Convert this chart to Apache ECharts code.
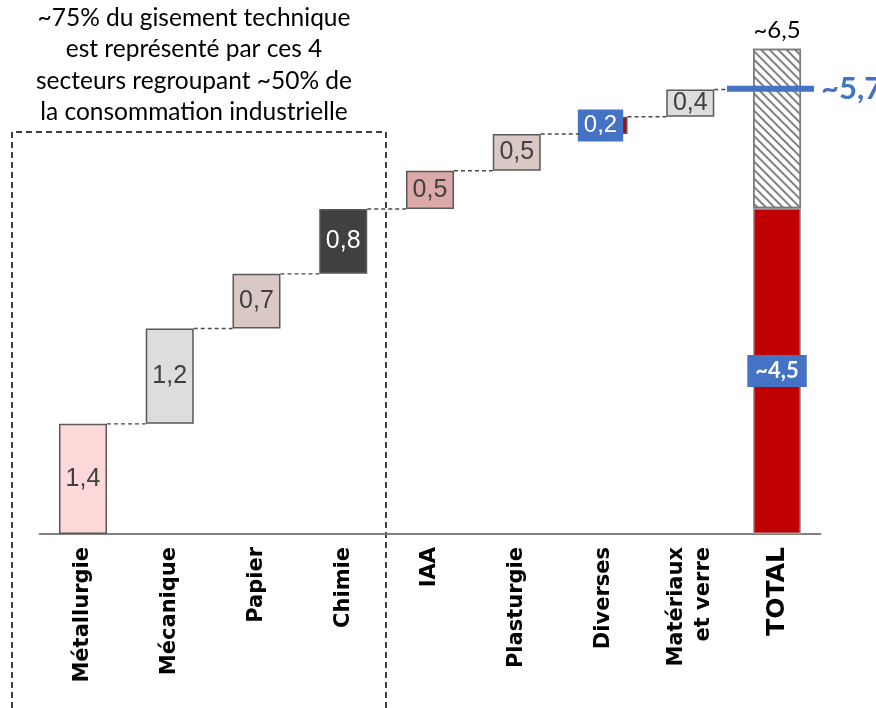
<!DOCTYPE html>
<html>
<head>
<meta charset="utf-8">
<script src="https://cdn.jsdelivr.net/npm/echarts@6/dist/echarts.min.js"></script>
<style>html,body{margin:0;padding:0;background:#fff;}#chart{width:876px;height:708px;}</style>
</head>
<body>
<div id="chart"></div>
<script>
// ---- data ----
const categories = ['Métallurgie', 'Mécanique', 'Papier', 'Chimie', 'IAA', 'Plasturgie', 'Diverses', 'Matériaux\net verre', 'TOTAL'];
const sectorValues = [1.41, 1.22, 0.70, 0.83, 0.49, 0.47, 0.22, 0.35];
const sectorLabels = ['1,4', '1,2', '0,7', '0,8', '0,5', '0,5', '0,2', '0,4'];
const sectorColors = ['#FFD9D9', '#DDDDDD', '#D9C8C3', '#404040', '#DCA8A8', '#D9C8C3', '#C00000', '#DDDDDD'];
const totalRed = 4.17;
const totalRedLabel = '~4,5';
const totalTop = 6.21;
const totalTopLabel = '~6,5';
const markerValue = 5.7;
const markerLabel = '~5,7';
const noteText = '~75% du gisement technique\nest représenté par ces 4\nsecteurs regroupant ~50% de\nla consommation industrielle';

// ---- derived ----
const bases = [];
const tops = [];
let acc = 0;
sectorValues.forEach(v => { bases.push(acc); acc += v; tops.push(acc); });

const baseData = bases.concat([0]);
const deltaData = sectorValues.map((v, i) => {
  const isChimie = i === 3, isDiv = i === 6;
  return {
    value: v,
    itemStyle: { color: sectorColors[i] },
    label: {
      formatter: sectorLabels[i],
      color: isChimie || isDiv ? '#fff' : '#404040',
      backgroundColor: isDiv ? '#4472C4' : 'transparent',
      padding: isDiv ? [2, 6] : 0,
      fontSize: isDiv ? 24 : 25,
      lineHeight: 28,
      offset: isDiv ? [-3, 0] : [0, 0]
    }
  };
}).concat([{
  value: totalRed,
  itemStyle: { color: '#C00000', borderColor: '#A0A0A0' },
  label: {
    formatter: totalRedLabel,
    color: '#fff',
    fontWeight: 'bold',
    fontFamily: 'Lato',
    fontSize: 22,
    backgroundColor: '#4472C4',
    padding: [2, 8],
    lineHeight: 28
  }
}]);
const hatchData = sectorValues.map(() => '-').concat([totalTop - totalRed]);

const chart = echarts.init(document.getElementById('chart'));
chart.setOption({
  animation: false,
  grid: { left: 39.6, right: 55.6, top: 26.2, bottom: 174 },
  xAxis: {
    type: 'category',
    data: categories,
    axisLine: { lineStyle: { color: '#808080', width: 2 } },
    axisTick: { show: false },
    axisLabel: {
      rotate: 90,
      margin: 13,
      color: '#000',
      fontFamily: 'DejaVu Sans',
      fontWeight: 'bold',
      fontSize: 21,
      lineHeight: 27,
      interval: 0,
      formatter: (v, i) => i === 8 ? '{t|' + v + '}' : v,
      rich: { t: { fontSize: 25, fontWeight: 'bold', fontFamily: 'DejaVu Sans', color: '#000' } }
    }
  },
  yAxis: { type: 'value', min: 0, max: 6.5, show: false, splitLine: { show: false } },
  series: [
    {
      type: 'bar', stack: 'w', barWidth: 48, data: baseData,
      itemStyle: { color: 'transparent', borderWidth: 0 }, silent: true
    },
    {
      type: 'bar', stack: 'w', barWidth: 48, data: deltaData,
      itemStyle: { borderColor: '#595959', borderWidth: 1.5 },
      label: { show: true, position: 'inside', fontFamily: 'Liberation Sans', fontSize: 25 }
    },
    {
      type: 'bar', stack: 'w', barWidth: 48, data: hatchData,
      itemStyle: {
        color: '#fff', borderColor: '#7a7a7a', borderWidth: 1.5,
        decal: { symbol: 'rect', symbolSize: 1, dashArrayX: [[1, 0]], dashArrayY: [2, 4], rotation: Math.PI / 4, color: '#808080' }
      },
      label: {
        show: true, position: 'top', distance: 7, formatter: totalTopLabel,
        color: '#000', fontFamily: 'Lato', fontSize: 24
      }
    },
    {
      type: 'custom', z: 5, clip: false, silent: true,
      data: tops.map((t, i) => [i, t]),
      renderItem: (params, api) => {
        const i = api.value(0), t = api.value(1);
        const p = api.coord([i, t]);
        const q = api.coord([i + 1, t]);
        return {
          type: 'line',
          shape: { x1: p[0] + 24, y1: p[1], x2: q[0] - 24, y2: q[1] },
          style: { stroke: '#4a4a4a', lineWidth: 1.4, lineDash: [4, 3] }
        };
      }
    },
    {
      type: 'custom', z: 6, clip: false, silent: true,
      data: [[8, markerValue]],
      renderItem: (params, api) => {
        const p = api.coord([api.value(0), api.value(1)]);
        return {
          type: 'group',
          children: [
            { type: 'line', shape: { x1: p[0] - 50, y1: p[1], x2: p[0] + 37, y2: p[1] },
              style: { stroke: '#4472C4', lineWidth: 6 } },
            { type: 'text', x: p[0] + 44, y: p[1],
              style: { text: markerLabel, fill: '#4472C4', fontFamily: 'Lato', fontWeight: 'bold', fontSize: 31,
                       align: 'left', verticalAlign: 'middle' } }
          ]
        };
      }
    }
  ],
  graphic: [
    {
      type: 'polyline', silent: true,
      shape: { points: [[12, 708], [12, 132], [386, 132], [386, 708]] },
      style: { stroke: '#000', lineWidth: 1.5, lineDash: [6, 4], fill: null }
    },
    {
      type: 'text', x: 194, y: 65, silent: true,
      style: { text: noteText, fill: '#000', fontFamily: 'Lato', fontSize: 24.5, lineHeight: 31.3,
               align: 'center', verticalAlign: 'middle' }
    }
  ]
});
</script>
</body>
</html>
